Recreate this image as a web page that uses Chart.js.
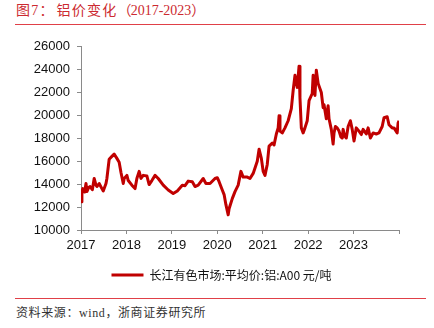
<!DOCTYPE html>
<html>
<head>
<meta charset="utf-8">
<script src="https://cdn.jsdelivr.net/npm/chart.js@4.4.0/dist/chart.umd.min.js"></script>
<style>
    html, body { margin: 0; padding: 0; background: #fff; }
    #wrap { position: relative; width: 434px; height: 328px; overflow: hidden; }
    #title {
        position: absolute; left: 16px; top: 2px;
        font-family: "Liberation Serif", "Noto Sans CJK SC", serif;
        font-size: 14px; letter-spacing: 1.2px; color: #cc2a30; white-space: nowrap; line-height: 17px;
    }
    #title .lead { margin-right: 2px; }
    #title .num { letter-spacing: 0; }
    #title .po { margin-right: -2px; }
    .rule { position: absolute; left: 15px; width: 411px; height: 1px; background: #e04048; }
    #rule-top { top: 24px; }
    #rule-bottom { top: 298px; }
    #source {
        position: absolute; left: 16px; top: 305px;
        font-family: "Liberation Serif", "Noto Sans CJK SC", serif;
        font-size: 12px; letter-spacing: 0.6px; color: #333; white-space: nowrap; line-height: 16px;
    }
    #chart-box { position: absolute; left: 0; top: 0; width: 434px; height: 291px; }
</style>
</head>
<body>
<div id="wrap">
    <div id="title"><span class="lead">图7：</span>铝价变化<span class="po">（</span><span class="num">2017-2023</span>）</div>
    <div class="rule" id="rule-top"></div>
    <div id="chart-box"><canvas id="price-chart" width="434" height="291"></canvas></div>
    <div class="rule" id="rule-bottom"></div>
    <div id="source">资料来源：wind，浙商证券研究所</div>
</div>
<script>
// 时间（年份小数）与长江有色A00铝均价（元/吨）
const years = [
    2017.00, 2017.02, 2017.04, 2017.08, 2017.11, 2017.13, 2017.17, 2017.20, 2017.25, 2017.29,
    2017.33, 2017.35, 2017.40, 2017.46, 2017.49, 2017.55, 2017.57, 2017.62, 2017.68, 2017.73,
    2017.79, 2017.84, 2017.88, 2017.93, 2017.95, 2018.01, 2018.04, 2018.12, 2018.19, 2018.23,
    2018.28, 2018.32, 2018.37, 2018.45, 2018.50, 2018.56, 2018.63, 2018.70, 2018.81, 2018.92,
    2019.03, 2019.12, 2019.23, 2019.29, 2019.36, 2019.45, 2019.51, 2019.58, 2019.69, 2019.75,
    2019.84, 2019.95, 2020.00, 2020.04, 2020.11, 2020.15, 2020.19, 2020.24, 2020.26, 2020.33,
    2020.39, 2020.46, 2020.52, 2020.57, 2020.66, 2020.72, 2020.79, 2020.88, 2020.92, 2020.97,
    2021.01, 2021.05, 2021.10, 2021.14, 2021.21, 2021.25, 2021.30, 2021.34, 2021.36, 2021.38,
    2021.43, 2021.49, 2021.56, 2021.63, 2021.67, 2021.71, 2021.76, 2021.80, 2021.82, 2021.85,
    2021.89, 2021.93, 2021.98, 2022.02, 2022.09, 2022.11, 2022.15, 2022.18, 2022.22, 2022.29,
    2022.33, 2022.35, 2022.40, 2022.44, 2022.46, 2022.51, 2022.55, 2022.57, 2022.60, 2022.64,
    2022.68, 2022.72, 2022.75, 2022.77, 2022.80, 2022.84, 2022.88, 2022.93, 2022.97, 2023.01,
    2023.06, 2023.12, 2023.17, 2023.21, 2023.28, 2023.32, 2023.37, 2023.43, 2023.50, 2023.56,
    2023.63, 2023.67, 2023.74, 2023.78, 2023.85, 2023.89, 2023.96, 2023.98, 2024.00
];
const prices = [
    12460, 13300, 13600, 13300, 14040, 13340, 13700, 13780, 13500, 14480,
    13900, 13780, 14040, 13600, 13400, 14040, 14480, 16150, 16400, 16600,
    16230, 15900, 15000, 14040, 14480, 14750, 14300, 13900, 13600, 14480,
    15100, 14480, 14750, 14700, 13950, 14300, 14750, 14480, 13900, 13480,
    13170, 13400, 13900, 13850, 14250, 14200, 13780, 13900, 14480, 14040,
    14040, 14480, 14550, 14200, 13480, 13080, 12200, 11320, 11850, 12730,
    13340, 13900, 15100, 14600, 14600, 14480, 14920, 15980, 17030, 16230,
    15100, 14750, 15700, 17300, 17560, 17400, 18350, 18880, 19930, 18600,
    18440, 18880, 19500, 20550, 22130, 23450, 22400, 24240, 21500, 18880,
    18440, 18880, 19500, 21250, 21870, 23450, 21700, 23900, 22750, 21960,
    20640, 20900, 19670, 20800, 19670, 18750, 17470, 18440, 19000, 18880,
    18600, 18100, 18000, 18750, 18200, 18000, 19000, 19500, 18750, 17740,
    18880, 18600, 18300, 18750, 18350, 18880, 18000, 18440, 18350, 18440,
    19000, 19760, 19850, 19150, 18880, 18880, 18440, 19300, 19500
];
const yearTicks = ['2017', '2018', '2019', '2020', '2021', '2022', '2023'];
const seriesName = '长江有色市场:平均价:铝:A00 元/吨';

const points = years.map((x, i) => ({ x: x, y: prices[i] }));
const axisColor = '#8a8a8a';
const tickFont = { family: '"Liberation Sans", Arial, sans-serif', size: 13 };

// 图例整体右移，居中于整幅画布
const legendShift = {
    id: 'legendShift',
    afterLayout: function (chart) {
        if (chart.legend) {
            chart.legend.left += 22;
            chart.legend.right += 22;
        }
    }
};

new Chart(document.getElementById('price-chart'), {
    type: 'line',
    data: {
        datasets: [{
            label: seriesName,
            data: points,
            borderColor: '#c00000',
            backgroundColor: '#c00000',
            borderWidth: 3,
            pointRadius: 0,
            tension: 0,
            borderJoinStyle: 'round'
        }]
    },
    plugins: [legendShift],
    options: {
        responsive: false,
        animation: false,
        layout: { padding: { left: 0, right: 35, top: 46, bottom: 0 } },
        plugins: {
            tooltip: { enabled: false },
            legend: {
                position: 'bottom',
                labels: {
                    boxWidth: 32,
                    boxHeight: 3,
                    padding: 10,
                    color: '#111',
                    font: { family: '"Noto Sans CJK SC", "Liberation Sans", sans-serif', size: 12 },
                    generateLabels: function (chart) {
                        const items = Chart.defaults.plugins.legend.labels.generateLabels(chart);
                        items.forEach(function (item) { item.lineWidth = 0; });
                        return items;
                    }
                }
            }
        },
        scales: {
            x: {
                type: 'linear',
                min: 2017,
                max: 2024,
                afterFit: function (scale) { scale.height = 29; },
                ticks: {
                    stepSize: 1,
                    padding: 4,
                    color: '#111',
                    font: tickFont,
                    maxRotation: 0,
                    callback: function (v) {
                        const i = Math.round(v) - 2017;
                        return yearTicks[i] || '';
                    }
                },
                grid: { drawOnChartArea: false, tickLength: 4, color: axisColor },
                border: { color: axisColor }
            },
            y: {
                min: 10000,
                max: 26000,
                afterFit: function (scale) { scale.width = 81; },
                ticks: {
                    stepSize: 2000,
                    padding: 7,
                    color: '#111',
                    font: tickFont,
                    callback: function (v) { return String(v); }
                },
                grid: { drawOnChartArea: false, tickLength: 4, color: axisColor },
                border: { color: axisColor }
            }
        }
    }
});
</script>
</body>
</html>
